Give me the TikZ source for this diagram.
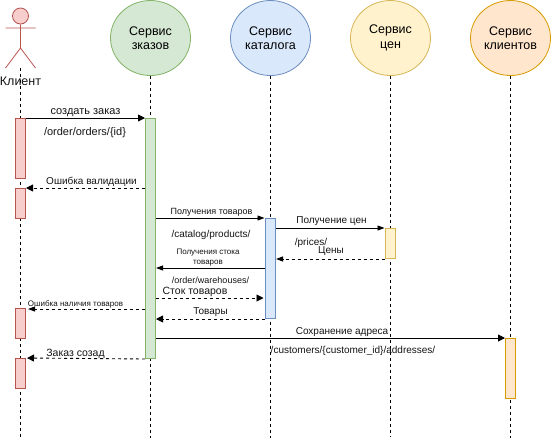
\documentclass[tikz,border=0pt]{standalone}
\usepackage{fontspec}
\setmainfont{Liberation Sans}
\usetikzlibrary{arrows.meta}
\usetikzlibrary{shapes.geometric}
\definecolor{redF}{HTML}{F8CECC}\definecolor{redD}{HTML}{B85450}
\definecolor{greenF}{HTML}{D5E8D4}\definecolor{greenD}{HTML}{82B366}
\definecolor{blueF}{HTML}{DAE8FC}\definecolor{blueD}{HTML}{6C8EBF}
\definecolor{yellowF}{HTML}{FFF2CC}\definecolor{yellowD}{HTML}{D6B656}
\definecolor{orangeF}{HTML}{FFE6CC}\definecolor{orangeD}{HTML}{D79B00}
\newcommand{\fs}[1]{\fontsize{#1}{#1}\selectfont}
\tikzset{
  svc/.style={ellipse,draw=#1D,fill=#1F,line width=0.8pt,minimum width=80pt,minimum height=75pt,inner sep=0pt,align=center,font=\fs{12.5}},
  act/.style={rectangle,draw=#1D,fill=#1F,line width=1pt,minimum width=10pt,inner sep=0pt,anchor=north},
  life/.style={dashed,dash pattern=on 3pt off 3pt,line width=0.8pt,black},
  msg/.style={line width=0.9pt,-{Triangle[length=7pt,width=7pt]}},
  msgS/.style={line width=0.9pt,-{Triangle[length=7pt,width=5pt]}},
  ret/.style={msg,dash pattern=on 3pt off 3pt},
  retS/.style={msgS,dash pattern=on 3pt off 3pt},
  lbl/.style={inner sep=0pt,text=black!92,font=\fs{#1},align=center,yshift=-1.2pt},
  lbl/.default=10
}
\begin{document}
\begin{tikzpicture}[x=1pt,y=-1pt]
\useasboundingbox (0,0) rectangle (551,440);
% actor
\node[circle,draw=redD,fill=redF,line width=0.8pt,minimum size=16pt,inner sep=0pt] (head) at (20.5,16) {};
\coordinate (neck) at (20.5,28);
\coordinate (hip) at (20.5,48);
\coordinate (armL) at (5.5,28);
\coordinate (armR) at (35.5,28);
\coordinate (legL) at (5.5,68);
\coordinate (legR) at (35.5,68);
\draw[redD,line width=0.8pt] (head) -- (hip) (armL) -- (armR) (legL) -- (hip) -- (legR);
% services
\node[svc=green] (sg) at (150.5,38) {Сервис\\[2pt]зказов};
\node[svc=blue] (sb) at (270.5,38) {Сервис\\[2pt]каталога};
\node[svc=yellow] (sy) at (390.5,38) {Сервис\\[2pt]цен};
\node[svc=orange] (so) at (510.5,38) {Сервис\\[2pt]клиентов};
% lifeline ends
\coordinate (eA) at (20.5,438);
\coordinate (eG) at (150.5,438);
\coordinate (eB) at (270.5,438);
\coordinate (eY) at (390.5,436);
\coordinate (eO) at (510.5,438);
\draw[life] (hip |- legL) -- (eA);
\draw[life] (sg.south) -- (eG);
\draw[life] (sb.south) -- (eB);
\draw[life] (sy.south) -- (eY);
\draw[life] (so.south) -- (eO);
\node[lbl=12.5] (cl) at (20.5,80.5) {Клиент};
% activations
\node[act=red,minimum height=60pt] (c1) at (20.5,118) {};
\node[act=red,minimum height=30pt] (c2) at (20.5,188) {};
\node[act=red,minimum height=30pt] (c3) at (20.5,308) {};
\node[act=red,minimum height=30pt] (c4) at (20.5,358) {};
\node[act=green,minimum height=240pt] (g) at (150.5,118) {};
\node[act=blue,minimum height=100pt] (b) at (270.5,218) {};
\node[act=yellow,minimum height=30pt] (y) at (390.5,228) {};
\node[act=orange,minimum height=60pt] (o) at (510.5,338) {};
% rows
\coordinate (r268) at (0,268);
\coordinate (r298) at (0,298);
\coordinate (r309) at (0,309);
% messages
\draw[msg] (c1.north east) -- (g.north west);
\draw[ret] (g.west |- c2.north) -- (c2.north east);
\draw[msgS] (g.east |- b.north) -- ([xshift=-0.5pt]b.north west);
\draw[msgS] (b.east |- y.north) -- ([xshift=-0.5pt]y.north west);
\draw[retS] (y.south west) -- (b.east |- y.south);
\draw[msgS] (b.west |- r268) -- (g.east |- r268);
\draw[ret] (g.east |- r298) -- ([xshift=-1.5pt]b.west |- r298);
\draw[ret] (b.south west) -- (g.east |- b.south);
\draw[retS] (g.west |- r309) -- ([xshift=2pt]c3.north east |- r309);
\draw[msg] (g.east |- o.north) -- (o.north west);
\draw[ret] (g.south west) -- ([xshift=1pt]c4.north east);
% labels
\node[lbl=11] (t1) at (85.5,111.5) {создать заказ};
\node[lbl=11] (t2) at (85,131.5) {/order/orders/\{id\}};
\node[lbl] (t3) at (91.5,180.5) {Ошибка валидации};
\node[lbl=9] (t4) at (211.5,211) {Получения товаров};
\node[lbl] (t5) at (211,233.5) {/catalog/products/};
\node[lbl=8] (t6) at (208,256.5) {Получения стока\\[2pt]товаров};
\node[lbl=9] (t7) at (210.5,279) {/order/warehouses/};
\node[lbl=10.5] (t8) at (195,290.5) {Сток товаров};
\node[lbl] (t9) at (210.5,311) {Товары};
\node[lbl=8] (t10) at (75.5,303) {Ошибка наличия товаров};
\node[lbl=10.5] (t11) at (75.5,352.5) {Заказ созад};
\node[lbl] (t12) at (331.5,220) {Получение цен};
\node[lbl] (t13) at (311,241.5) {/prices/};
\node[lbl] (t14) at (331,249.5) {Цены};
\node[lbl] (t15) at (342,330.5) {Сохранение адреса};
\node[lbl] (t16) at (353,350) {/customers/\{customer\_id\}/addresses/};
\end{tikzpicture}
\end{document}
